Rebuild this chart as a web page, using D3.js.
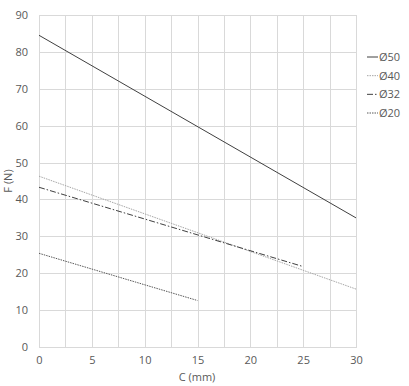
<!DOCTYPE html>
<html><head><meta charset="utf-8">
<script src="https://cdn.jsdelivr.net/npm/d3@7"></script>
<style>body{margin:0;background:#fff;} text{font-family:"Open Sans",sans-serif;fill:#595959;}</style>
</head><body><svg id="c" width="409" height="386"></svg>
<script>
const seriesNames = ["Ø50","Ø40","Ø32","Ø20"];
const seriesX = [[0,30],[0,30],[0,25],[0,15]];
const seriesY = [[84.5,35],[46.3,15.7],[43.3,21.8],[25.4,12.6]];
const xTicks = [0,5,10,15,20,25,30];
const yTicks = [0,10,20,30,40,50,60,70,80,90];
const xGrid = [0,2.5,5,7.5,10,12.5,15,17.5,20,22.5,25,27.5,30];
const styles = [
  {stroke:"#404040", dash:null, w:1},
  {stroke:"#a6a6a6", dash:"1.5,1", w:1},
  {stroke:"#404040", dash:"6,2,1.5,2", w:1},
  {stroke:"#595959", dash:"1.5,1", w:1}
];
const svg = d3.select("#c");
const x = d3.scaleLinear().domain([0,30]).range([39,356]);
const y = d3.scaleLinear().domain([0,90]).range([347,15]);
const g = svg.append("g");
g.selectAll(".vg").data(xGrid).join("line")
  .attr("x1",d=>x(d)+0.5).attr("x2",d=>x(d)+0.5).attr("y1",y(90)).attr("y2",y(0))
  .attr("stroke","#d9d9d9").attr("stroke-width",1).attr("shape-rendering","crispEdges");
g.selectAll(".hg").data(yTicks).join("line")
  .attr("x1",x(0)).attr("x2",x(30)+1).attr("y1",d=>y(d)+0.5).attr("y2",d=>y(d)+0.5)
  .attr("stroke","#d9d9d9").attr("stroke-width",1).attr("shape-rendering","crispEdges");
const xAxis = d3.axisBottom(x).tickValues(xTicks).tickSize(0).tickPadding(9);
const xa = svg.append("g").attr("transform",`translate(0,${y(0)})`).call(xAxis);
xa.select(".domain").remove();
xa.selectAll("text").attr("font-size",11).style("fill","#595959");
const yAxis = d3.axisLeft(y).tickValues(yTicks).tickSize(0).tickPadding(11);
const ya = svg.append("g").attr("transform",`translate(${x(0)},0)`).call(yAxis);
ya.select(".domain").remove();
ya.selectAll("text").attr("font-size",11).style("fill","#595959");
svg.append("text").attr("x",197).attr("y",381).attr("text-anchor","middle").attr("font-size",11).text("C (mm)");
svg.append("text").attr("transform","translate(12,181) rotate(-90)").attr("text-anchor","middle").attr("font-size",11).text("F (N)");
const line = d3.line().x(d=>x(d[0])).y(d=>y(d[1]));
seriesNames.forEach((n,i)=>{
  const pts = seriesX[i].map((v,j)=>[v,seriesY[i][j]]);
  svg.append("path").attr("d",line(pts)).attr("fill","none")
    .attr("stroke",styles[i].stroke).attr("stroke-width",styles[i].w)
    .attr("stroke-dasharray",styles[i].dash);
});
const leg = svg.append("g");
const legY = d3.scalePoint().domain(seriesNames).range([57,113]);
seriesNames.forEach((n,i)=>{
  leg.append("line").attr("x1",367).attr("x2",378).attr("y1",legY(n)).attr("y2",legY(n))
    .attr("stroke",styles[i].stroke).attr("stroke-width",styles[i].w).attr("stroke-dasharray",styles[i].dash);
  leg.append("text").attr("x",379).attr("y",legY(n)+4).attr("font-size",11).text(n);
});
</script></body></html>
